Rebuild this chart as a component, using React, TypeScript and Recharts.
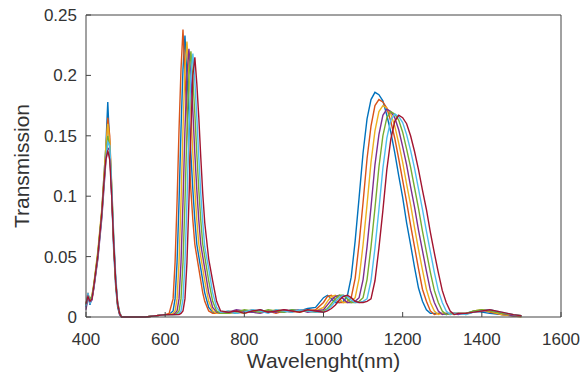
import { LineChart, Line, XAxis, YAxis } from "recharts";

// wavelength grid (nm), denser where the peaks are
const wavelength = [
  400, 405, 410, 415, 420, 430, 440, 445, 450, 455, 460, 465, 470, 475, 480, 485, 490, 500,
  550, 600,
  610, 620, 625, 630, 635, 640, 645, 650, 655, 660, 665, 670, 675, 680, 685, 690, 695, 700, 710, 720, 730, 740,
  760, 780, 800, 820, 840, 860, 880, 900, 920, 940, 960, 980,
  1000, 1010, 1020, 1030, 1040, 1050, 1060, 1070, 1080, 1090, 1100, 1110, 1120, 1130, 1140, 1150, 1160, 1170,
  1180, 1190, 1200, 1210, 1220, 1230, 1240, 1250, 1260, 1270, 1280, 1290, 1300, 1310, 1320, 1330, 1340,
  1360, 1380, 1400, 1420, 1450, 1480, 1500,
];

const s1 = [
  0.008, 0.018, 0.01, 0.016, 0.026, 0.052, 0.088, 0.115, 0.14, 0.178, 0.14, 0.1, 0.055, 0.025, 0.008, 0.002, 0, 0,
  0, 0.002,
  0.002, 0.005, 0.015, 0.045, 0.095, 0.155, 0.205, 0.233, 0.2, 0.17, 0.135, 0.105, 0.08, 0.06, 0.05, 0.04, 0.03, 0.02, 0.008, 0.004, 0.003, 0.003,
  0.004, 0.003, 0.005, 0.004, 0.006, 0.004, 0.005, 0.004, 0.006, 0.005, 0.007, 0.008,
  0.016, 0.018, 0.015, 0.012, 0.012, 0.013, 0.017, 0.033, 0.063, 0.099, 0.136, 0.164, 0.18, 0.186, 0.184, 0.179, 0.167,
  0.153, 0.136, 0.117, 0.099, 0.078, 0.06, 0.041, 0.024, 0.013, 0.006, 0.003, 0.003, 0.003, 0.003, 0.002, 0.003, 0.003, 0.003,
  0.003, 0.005, 0.004, 0.003, 0.002, 0.001, 0.001,
];

const s2 = [
  0.01, 0.02, 0.012, 0.015, 0.025, 0.05, 0.085, 0.11, 0.135, 0.165, 0.15, 0.105, 0.06, 0.028, 0.01, 0.003, 0, 0,
  0, 0.002,
  0.003, 0.015, 0.045, 0.095, 0.155, 0.205, 0.238, 0.2, 0.17, 0.135, 0.105, 0.08, 0.06, 0.05, 0.04, 0.03, 0.02, 0.013, 0.005, 0.003, 0.003, 0.003,
  0.003, 0.005, 0.004, 0.006, 0.004, 0.005, 0.003, 0.005, 0.004, 0.006, 0.005, 0.006,
  0.012, 0.017, 0.018, 0.014, 0.012, 0.012, 0.013, 0.016, 0.032, 0.061, 0.095, 0.131, 0.158, 0.175, 0.18, 0.178, 0.173,
  0.162, 0.148, 0.131, 0.113, 0.095, 0.076, 0.058, 0.04, 0.023, 0.013, 0.005, 0.002, 0.003, 0.003, 0.003, 0.002, 0.003, 0.003,
  0.003, 0.004, 0.006, 0.004, 0.002, 0.001, 0.001,
];

const s3 = [
  0.012, 0.015, 0.014, 0.018, 0.028, 0.055, 0.09, 0.115, 0.14, 0.16, 0.145, 0.11, 0.065, 0.03, 0.012, 0.004, 0, 0,
  0, 0.002,
  0.002, 0.003, 0.005, 0.015, 0.045, 0.095, 0.155, 0.205, 0.228, 0.2, 0.17, 0.135, 0.105, 0.08, 0.06, 0.05, 0.04, 0.03, 0.013, 0.005, 0.003, 0.003,
  0.005, 0.004, 0.003, 0.005, 0.005, 0.004, 0.006, 0.005, 0.005, 0.004, 0.006, 0.005,
  0.008, 0.013, 0.017, 0.018, 0.015, 0.012, 0.012, 0.013, 0.016, 0.032, 0.06, 0.093, 0.128, 0.154, 0.17, 0.175, 0.173,
  0.168, 0.158, 0.144, 0.128, 0.11, 0.093, 0.074, 0.056, 0.039, 0.023, 0.012, 0.005, 0.002, 0.003, 0.003, 0.003, 0.002, 0.003,
  0.002, 0.005, 0.006, 0.005, 0.002, 0.001, 0,
];

const s4 = [
  0.006, 0.016, 0.012, 0.014, 0.024, 0.048, 0.082, 0.105, 0.128, 0.14, 0.138, 0.1, 0.06, 0.03, 0.01, 0.002, 0, 0,
  0, 0.002,
  0.002, 0.002, 0.003, 0.005, 0.015, 0.045, 0.095, 0.155, 0.2, 0.222, 0.198, 0.17, 0.135, 0.105, 0.08, 0.06, 0.05, 0.04, 0.02, 0.008, 0.004, 0.003,
  0.004, 0.006, 0.005, 0.004, 0.003, 0.005, 0.004, 0.006, 0.005, 0.006, 0.004, 0.005,
  0.006, 0.01, 0.014, 0.017, 0.018, 0.015, 0.012, 0.012, 0.013, 0.016, 0.031, 0.058, 0.091, 0.126, 0.151, 0.167, 0.172,
  0.17, 0.165, 0.155, 0.141, 0.126, 0.108, 0.091, 0.072, 0.055, 0.038, 0.022, 0.012, 0.005, 0.002, 0.003, 0.003, 0.003, 0.002,
  0.003, 0.004, 0.005, 0.006, 0.003, 0.001, 0.001,
];

const s5 = [
  0.01, 0.018, 0.015, 0.017, 0.027, 0.053, 0.087, 0.11, 0.132, 0.15, 0.14, 0.105, 0.062, 0.03, 0.01, 0.003, 0, 0,
  0, 0.002,
  0.002, 0.002, 0.002, 0.003, 0.005, 0.015, 0.045, 0.095, 0.155, 0.2, 0.22, 0.196, 0.168, 0.135, 0.105, 0.08, 0.06, 0.05, 0.03, 0.013, 0.005, 0.003,
  0.003, 0.004, 0.006, 0.005, 0.004, 0.006, 0.005, 0.004, 0.006, 0.005, 0.005, 0.004,
  0.005, 0.007, 0.011, 0.015, 0.018, 0.018, 0.015, 0.012, 0.012, 0.013, 0.016, 0.031, 0.058, 0.09, 0.124, 0.15, 0.165,
  0.17, 0.168, 0.163, 0.153, 0.139, 0.124, 0.107, 0.09, 0.071, 0.054, 0.037, 0.022, 0.012, 0.005, 0.002, 0.003, 0.003, 0.003,
  0.003, 0.005, 0.006, 0.005, 0.003, 0.002, 0.001,
];

const s6 = [
  0.009, 0.02, 0.011, 0.016, 0.025, 0.05, 0.084, 0.108, 0.13, 0.145, 0.142, 0.108, 0.068, 0.035, 0.012, 0.004, 0, 0,
  0, 0.002,
  0.002, 0.002, 0.002, 0.002, 0.003, 0.005, 0.015, 0.045, 0.095, 0.155, 0.2, 0.218, 0.195, 0.165, 0.132, 0.102, 0.078, 0.058, 0.04, 0.02, 0.008, 0.004,
  0.005, 0.003, 0.004, 0.006, 0.005, 0.003, 0.006, 0.005, 0.004, 0.006, 0.005, 0.004,
  0.004, 0.006, 0.009, 0.013, 0.016, 0.018, 0.017, 0.014, 0.012, 0.012, 0.013, 0.015, 0.03, 0.057, 0.089, 0.123, 0.148,
  0.163, 0.168, 0.166, 0.161, 0.151, 0.138, 0.123, 0.106, 0.089, 0.071, 0.054, 0.037, 0.022, 0.012, 0.005, 0.002, 0.003, 0.003,
  0.002, 0.004, 0.005, 0.006, 0.004, 0.002, 0.001,
];

const s7 = [
  0.011, 0.017, 0.013, 0.015, 0.026, 0.051, 0.086, 0.11, 0.13, 0.138, 0.13, 0.1, 0.062, 0.03, 0.011, 0.003, 0, 0,
  0, 0.002,
  0.002, 0.002, 0.002, 0.002, 0.002, 0.003, 0.005, 0.015, 0.045, 0.095, 0.155, 0.2, 0.215, 0.193, 0.165, 0.132, 0.102, 0.078, 0.048, 0.03, 0.013, 0.005,
  0.004, 0.005, 0.003, 0.005, 0.006, 0.004, 0.005, 0.006, 0.005, 0.004, 0.006, 0.005,
  0.004, 0.005, 0.007, 0.01, 0.014, 0.017, 0.018, 0.016, 0.013, 0.012, 0.012, 0.013, 0.015, 0.03, 0.057, 0.088, 0.122,
  0.147, 0.162, 0.167, 0.165, 0.16, 0.15, 0.137, 0.122, 0.105, 0.089, 0.07, 0.053, 0.037, 0.022, 0.012, 0.005, 0.002, 0.003,
  0.003, 0.004, 0.005, 0.006, 0.004, 0.002, 0.001,
];

const xTicks = [400, 600, 800, 1000, 1200, 1400, 1600];
const yTicks = [0, 0.05, 0.1, 0.15, 0.2, 0.25];

const seriesKeys = ["s1", "s2", "s3", "s4", "s5", "s6", "s7"];
const seriesColors = ["#0072BD", "#D95319", "#EDB120", "#7E2F8E", "#77AC30", "#4DBEEE", "#A2142F"];
const allSeries = [s1, s2, s3, s4, s5, s6, s7];

const data = wavelength.map((w, i) => {
  const row: Record<string, number> = { w };
  seriesKeys.forEach((k, j) => {
    row[k] = allSeries[j][i];
  });
  return row;
});

const axisColor = "#444";
const tickStyle = { fontSize: 17, fill: "#333", fontFamily: "Liberation Sans, Arial, sans-serif" };
const labelStyle = { fontSize: 21, fill: "#333", fontFamily: "Liberation Sans, Arial, sans-serif" };

export default function App() {
  return (
    <div style={{ position: "absolute", left: 0, top: 0, width: 583, height: 381, background: "#fff" }}>
      <LineChart width={583} height={381} data={data} margin={{ top: 14, right: 21, left: 0, bottom: 0 }}>
        <XAxis
          dataKey="w"
          type="number"
          domain={[400, 1600]}
          ticks={xTicks}
          height={64}
          tickSize={-5}
          tickMargin={21}
          stroke={axisColor}
          tick={tickStyle}
          label={{ value: "Wavelenght(nm)", position: "insideBottom", offset: 13, style: labelStyle }}
        />
        <XAxis
          xAxisId="top"
          orientation="top"
          dataKey="w"
          type="number"
          domain={[400, 1600]}
          ticks={xTicks}
          height={1}
          tickSize={-5}
          tick={false}
          stroke={axisColor}
        />
        <YAxis
          type="number"
          domain={[0, 0.25]}
          ticks={yTicks}
          width={86}
          tickSize={-5}
          tickMargin={14}
          stroke={axisColor}
          tick={tickStyle}
          label={{
            value: "Transmission",
            angle: -90,
            position: "insideLeft",
            offset: 22,
            style: { ...labelStyle, textAnchor: "middle" },
          }}
        />
        <YAxis
          yAxisId="right"
          orientation="right"
          type="number"
          domain={[0, 0.25]}
          ticks={yTicks}
          width={1}
          tickSize={-5}
          tick={false}
          stroke={axisColor}
        />
        {seriesKeys.map((k, j) => (
          <Line
            key={k}
            dataKey={k}
            type="linear"
            stroke={seriesColors[j]}
            strokeWidth={1.4}
            dot={false}
            isAnimationActive={false}
          />
        ))}
      </LineChart>
    </div>
  );
}
